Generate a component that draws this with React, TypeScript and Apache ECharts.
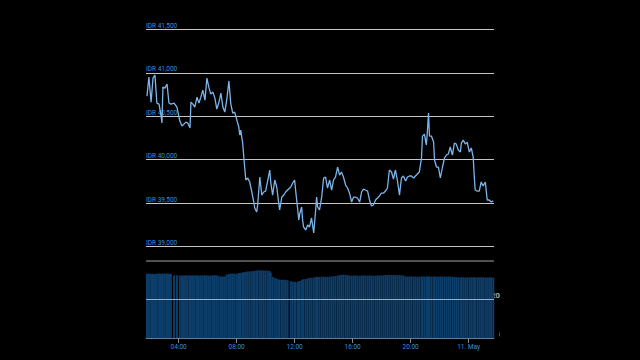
import React, { useEffect, useRef } from "react";
import * as echarts from "echarts";

// minutes since 00:00 on 10 May (1440 = 11 May 00:00)
const times = [
  109, 117, 126, 134, 142, 150, 159, 167, 171, 175,
  183, 192, 200, 208, 221, 233, 245, 254, 262, 270,
  278, 287, 291, 299, 307, 316, 324, 332, 340, 349,
  357, 365, 373, 382, 390, 398, 406, 415, 423, 431,
  439, 448, 456, 464, 472, 481, 489, 493, 497, 505,
  510, 518, 526, 534, 543, 551, 555, 563, 567, 576,
  584, 592, 600, 609, 617, 621, 629, 638, 646, 654,
  658, 667, 675, 683, 691, 704, 712, 720, 724, 733,
  737, 741, 749, 753, 757, 766, 774, 782, 790, 799,
  807, 811, 815, 823, 832, 840, 848, 856, 865, 873,
  881, 889, 898, 906, 914, 922, 931, 939, 947, 956,
  964, 972, 980, 989, 997, 1005, 1013, 1022, 1030, 1038,
  1046, 1055, 1063, 1071, 1079, 1088, 1096, 1104, 1112, 1121,
  1129, 1137, 1145, 1154, 1162, 1170, 1179, 1187, 1195, 1203,
  1212, 1220, 1228, 1236, 1245, 1249, 1257, 1265, 1269, 1274,
  1278, 1286, 1295, 1299, 1307, 1315, 1323, 1331, 1340, 1348,
  1356, 1364, 1373, 1381, 1389, 1397, 1406, 1410, 1418, 1426,
  1434, 1443, 1451, 1459, 1463, 1467, 1476, 1484, 1492, 1500,
  1509, 1517, 1525, 1533, 1542,
];

const prices = [
  40732, 40950, 40663, 40939, 40973, 40652, 40640, 40514, 40422, 40835,
  40824, 40870, 40652, 40640, 40652, 40606, 40445, 40387, 40410, 40433,
  40422, 40364, 40663, 40640, 40606, 40720, 40652, 40720, 40801, 40686,
  40939, 40835, 40755, 40778, 40709, 40583, 40652, 40766, 40606, 40548,
  40686, 40904, 40640, 40537, 40548, 40456, 40376, 40284, 40341, 40192,
  40020, 39767, 39790, 39744, 39629, 39514, 39445, 39399, 39480, 39801,
  39594, 39629, 39640, 39767, 39882, 39744, 39594, 39767, 39686, 39503,
  39422, 39571, 39594, 39629, 39652, 39686, 39732, 39767, 39652, 39422,
  39307, 39376, 39457, 39307, 39227, 39192, 39250, 39227, 39330, 39158,
  39422, 39571, 39457, 39422, 39571, 39790, 39801, 39675, 39767, 39652,
  39767, 39801, 39916, 39824, 39859, 39801, 39709, 39675, 39617, 39514,
  39571, 39571, 39560, 39514, 39629, 39663, 39652, 39640, 39537, 39468,
  39480, 39537, 39560, 39583, 39617, 39617, 39640, 39675, 39882, 39859,
  39778, 39882, 39767, 39594, 39790, 39813, 39755, 39801, 39813, 39813,
  39790, 39813, 39836, 39859, 40020, 40272, 40295, 40169, 40307, 40537,
  40272, 40272, 40203, 39997, 39916, 39916, 39790, 39905, 40020, 40054,
  40066, 40146, 40054, 40192, 40180, 40112, 40089, 40192, 40226, 40180,
  40203, 40089, 40135, 40031, 39824, 39652, 39640, 39640, 39744, 39698,
  39744, 39537, 39537, 39514, 39526,
];

const volumes = [
  334, 335, 333, 334, 332, 334, 335, 334, 333, 334,
  334, 335, 334, 333, 325, 326, 325, 324, 325, 326,
  325, 325, 324, 325, 326, 325, 324, 325, 325, 326,
  325, 324, 325, 325, 326, 325, 321, 320, 319, 320,
  330, 333, 334, 335, 334, 334, 336, 337, 338, 340,
  342, 344, 346, 346, 347, 348, 349, 350, 351, 352,
  351, 350, 351, 350, 348, 340, 318, 312, 308, 304,
  303, 302, 303, 302, 300, 295, 293, 292, 291, 292,
  293, 296, 300, 303, 305, 306, 310, 312, 313, 314,
  316, 317, 318, 318, 319, 318, 317, 318, 319, 320,
  320, 322, 324, 327, 328, 329, 328, 327, 325, 324,
  324, 325, 324, 323, 324, 325, 324, 324, 325, 324,
  323, 324, 325, 324, 326, 326, 327, 327, 328, 327,
  327, 326, 327, 327, 326, 325, 320, 319, 319, 320,
  319, 319, 318, 319, 320, 319, 319, 318, 319, 320,
  319, 319, 319, 320, 318, 319, 319, 320, 319, 318,
  319, 319, 318, 317, 316, 315, 315, 316, 315, 314,
  315, 315, 316, 315, 315, 314, 315, 315, 316, 315,
  315, 314, 315, 315, 314,
];

const priceTicks = [39000, 39500, 40000, 40500, 41000, 41500];
const timeTicks = [240, 480, 720, 960, 1200, 1440];
const timeLabels = ["04:00", "08:00", "12:00", "16:00", "20:00", "11. May"];
const volumeTicks = [0, 200, 400];

const LABEL_COLOR = "#3b8fdc";
const FONT = "Roboto, 'Noto Sans', sans-serif";

export default function App() {
  const ref = useRef<HTMLDivElement>(null);

  useEffect(() => {
    if (!ref.current) return;
    const chart = echarts.init(ref.current, undefined, { renderer: "svg" });
    const lineData = times.map((t, i) => [t, prices[i]]);
    const barData = times.map((t, i) => [t, volumes[i]]);

    chart.setOption({
      animation: false,
      backgroundColor: "#000000",
      textStyle: { fontFamily: FONT },
      grid: [
        { left: 6, right: 6, top: 29.3, bottom: 113.3, outerBoundsMode: "none", containLabel: false },
        { left: 6, right: 6, top: 261, bottom: 22, outerBoundsMode: "none", containLabel: false },
      ],
      xAxis: [
        {
          type: "value",
          gridIndex: 0,
          min: 105,
          max: 1545,
          show: false,
        },
        {
          type: "value",
          gridIndex: 1,
          min: 105,
          max: 1545,
          axisLine: { show: true, lineStyle: { color: "#5f7c99", width: 1 } },
          axisTick: {
            show: true,
            customValues: timeTicks,
            length: 5,
            lineStyle: { color: "#8a8a8a" },
          },
          axisLabel: {
            customValues: timeTicks,
            color: LABEL_COLOR,
            fontSize: 6.5,
            fontFamily: FONT,
            margin: 5,
            formatter: (v: number) => {
              const idx = timeTicks.indexOf(Math.round(v));
              return idx >= 0 ? timeLabels[idx] : "";
            },
          },
          splitLine: { show: false },
        },
      ],
      yAxis: [
        {
          type: "value",
          gridIndex: 0,
          min: priceTicks[0],
          max: priceTicks[priceTicks.length - 1],
          interval: 500,
          axisLine: { show: false },
          axisTick: { show: false },
          axisLabel: {
            inside: true,
            margin: 0,
            color: LABEL_COLOR,
            fontSize: 6.5,
            fontFamily: FONT,
            verticalAlign: "bottom",
            padding: [0, 0, 0, 0],
            formatter: (v: number) => "IDR " + v.toLocaleString("en-US"),
          },
          splitLine: { show: true, lineStyle: { color: "#c4c4c4", width: 1 } },
        },
        {
          type: "value",
          gridIndex: 1,
          position: "right",
          min: volumeTicks[0],
          max: volumeTicks[2],
          interval: 200,
          axisLine: { show: false },
          axisTick: { show: false },
          axisLabel: {
            color: "#e0e0e0",
            fontSize: 6.5,
            fontFamily: FONT,
            align: "right",
            margin: 9,
            verticalAlign: "bottom",
            formatter: (v: number) => (v === 400 ? "" : String(v)),
          },
          splitLine: { show: false },
        },
      ],
      series: [
        {
          type: "line",
          xAxisIndex: 0,
          yAxisIndex: 0,
          data: lineData,
          showSymbol: false,
          lineStyle: { color: "#7cb5ec", width: 1.3 },
          z: 3,
        },
        {
          type: "bar",
          xAxisIndex: 1,
          yAxisIndex: 1,
          data: barData,
          barWidth: 2,
          itemStyle: { color: "#0d3d69" },
          markLine: {
            silent: true,
            symbol: "none",
            label: { show: false },
            data: [
              { yAxis: 200, lineStyle: { color: "#8fb0cf", width: 1, type: "solid" } },
              { yAxis: 400, lineStyle: { color: "#6e6e6e", width: 1.5, type: "solid" } },
            ],
          },
        },
      ],
    });
    return () => chart.dispose();
  }, []);

  return (
    <div style={{ position: "fixed", left: 0, top: 0, width: 640, height: 360, background: "#000" }}>
      <div
        ref={ref}
        style={{ position: "absolute", left: 140, top: 0, width: 360, height: 360 }}
      />
    </div>
  );
}
